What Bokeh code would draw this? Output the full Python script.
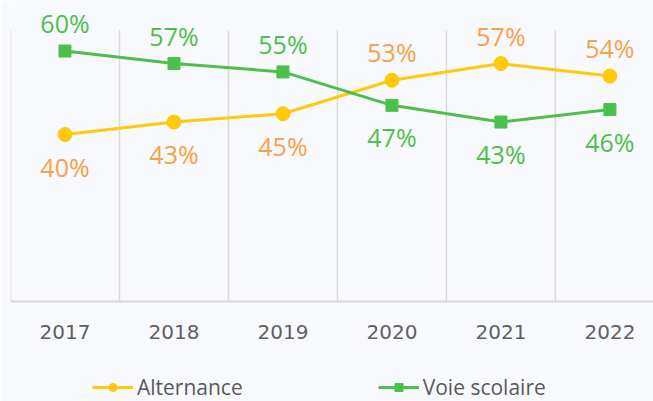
from bokeh.plotting import figure
from bokeh.models import ColumnDataSource, Range1d, FixedTicker, Legend, LegendItem
from bokeh.core.properties import value
from bokeh.embed import file_html
from bokeh.resources import INLINE

years = [2017, 2018, 2019, 2020, 2021, 2022]
alternance = [40, 43, 45, 53, 57, 54]
voie_scolaire = [60, 57, 55, 47, 43, 46]
y_max = 65  # value axis maximum (top of category separators)

BG = "#F8F9FC"
YELLOW = "#FFC90E"
ORANGE = "#F9A04A"
GREEN = "#4DBF4D"
GRID = "#D9D9D9"

p = figure(width=653, height=401, output_backend="svg", toolbar_location=None,
           x_range=Range1d(2016.5, 2022.4), y_range=Range1d(-23.9, 72.1),
           min_border_left=10, min_border_right=0, min_border_top=0, min_border_bottom=0)
p.background_fill_color = BG
p.border_fill_color = BG
p.outline_line_color = None

p.yaxis.visible = False
p.grid.visible = False

# category separators
bounds = [y - 0.5 for y in years] + [years[-1] + 0.5]
p.segment(x0=bounds, y0=[0] * len(bounds), x1=bounds, y1=[y_max] * len(bounds),
          line_color=GRID, line_width=1.5)

ax = p.xaxis[0]
ax.fixed_location = 0
ax.ticker = FixedTicker(ticks=years)
ax.axis_line_color = GRID
ax.axis_line_width = 2
ax.major_tick_line_color = None
ax.minor_tick_line_color = None
ax.major_label_text_font = "DejaVu Sans"
ax.major_label_text_font_size = "20px"
ax.major_label_text_color = "#606060"
ax.major_label_standoff = 17

def series_source(vals, other):
    return ColumnDataSource(dict(
        x=years, y=vals,
        label=[f"{v}%" for v in vals],
        off=[-28 if v > o else 32 for v, o in zip(vals, other)],
    ))

src_a = series_source(alternance, voie_scolaire)
src_v = series_source(voie_scolaire, alternance)

la = p.line("x", "y", source=src_a, line_color=YELLOW, line_width=3)
ca = p.scatter("x", "y", source=src_a, marker="circle", size=14, fill_color=YELLOW, line_color=YELLOW)
lv = p.line("x", "y", source=src_v, line_color=GREEN, line_width=3)
sv = p.scatter("x", "y", source=src_v, marker="square", size=12, fill_color=GREEN, line_color=GREEN)

for src, col in ((src_a, ORANGE), (src_v, GREEN)):
    p.text("x", "y", text="label", source=src, y_offset="off", text_color=col,
           text_font=value("Open Sans"), text_font_size="25px",
           text_align="center", text_baseline="middle")

legend = Legend(items=[LegendItem(label="Alternance", renderers=[la, ca]),
                       LegendItem(label="Voie scolaire", renderers=[lv, sv])],
                location=(82, 0), orientation="horizontal",
                padding=0, margin=0, spacing=135, glyph_width=41, glyph_height=20,
                label_standoff=4, label_text_font="Open Sans", label_text_font_size="21px",
                label_text_color="#595959", background_fill_alpha=0, border_line_color=None)
p.add_layout(legend, "center")

open("out.html", "w").write(file_html(p, INLINE))
